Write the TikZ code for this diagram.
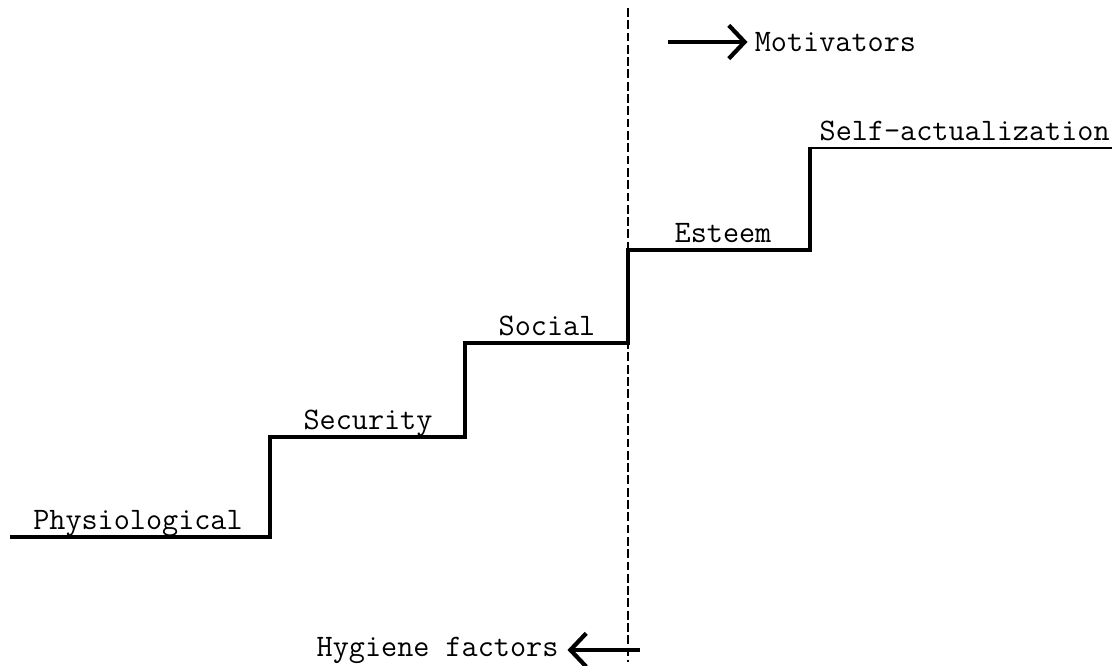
\documentclass[tikz,border=0pt]{standalone}
\usepackage{tikz}
\usetikzlibrary{arrows.meta}
\tikzset{>={Straight Barb[length=9pt,width=19pt,line width=2.4pt]}}
\tikzstyle{stair}=[line width=2.6pt,line join=miter]
\tikzstyle{divide}=[dash pattern=on 5pt off 2pt,line width=0.7pt]
\tikzstyle{harrow}=[->,line width=2.2pt]
\tikzstyle{level}=[anchor=base,inner sep=0pt,font=\fontsize{17.8}{20}\selectfont\ttfamily]
\def\xmax{22.3}
\def\ymax{13.32}
\def\xd{12.56}

\begin{document}
\begin{tikzpicture}
      \useasboundingbox (0,0) rectangle (\xmax,\ymax);
      \coordinate (P0) at (0.2,2.58);
      \coordinate (P1) at (5.4,2.58);
      \coordinate (P2) at (5.4,4.58);
      \coordinate (P3) at (9.3,4.58);
      \coordinate (P4) at (9.3,6.46);
      \coordinate (P5) at (\xd,6.46);
      \coordinate (P6) at (\xd,8.32);
      \coordinate (P7) at (16.2,8.32);
      \coordinate (P8) at (16.2,10.36);
      \coordinate (P9) at (22.24,10.36);
      \coordinate (Dtop) at (\xd,13.16);
      \coordinate (Dbot) at (\xd,0.08);

      % DIVIDER
      \draw[divide] (Dtop) -- (Dbot);

      % STAIRS
      \draw[stair] (P0) -- (P1) -- (P2) -- (P3) -- (P4) -- (P5) -- (P6) -- (P7) -- (P8);
      \draw[line width=1.3pt] ([xshift=-1.3pt]P8) -- (P9);

      % LEVELS
      \node[level] (phys) at (2.76,2.72) {Physiological};
      \node[level] (secu) at (7.36,4.72) {Security};
      \node[level] (soci) at (10.94,6.6) {Social};
      \node[level] (este) at (14.46,8.46) {Esteem};
      \node[level,anchor=base east] (self) at (22.2,10.5) {Self-actualization};

      % ARROWS
      \coordinate (M0) at (13.36,12.48);
      \coordinate (M1) at (14.95,12.48);
      \coordinate (H0) at (12.8,0.32);
      \coordinate (H1) at (11.35,0.32);
      \draw[harrow] (M0) -- (M1);
      \draw[harrow] (H0) -- (H1);
      \node[level,anchor=west] (moti) at ([xshift=4pt]M1) {Motivators};
      \node[level,anchor=east] (hygi) at ([xshift=-5pt]H1) {Hygiene factors};
\end{tikzpicture}
\end{document}
